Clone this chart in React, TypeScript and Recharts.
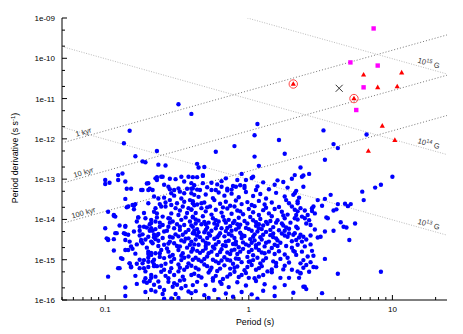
import { ScatterChart, Scatter, XAxis, YAxis } from "recharts"

// radio pulsars as [log10 P (s), log10 Pdot (s/s)]
const pulsars: [number, number][] = [
  [-0.49,-11.14],[-0.40,-11.38],[-0.83,-11.80],[-0.87,-12.11],[-0.64,-12.30],[-0.79,-12.43],[-0.74,-12.56],[-0.72,-12.58],
  [-0.63,-12.64],[-0.58,-12.66],[-0.23,-12.32],[-0.10,-12.18],[0.06,-11.63],[0.04,-11.91],[0.04,-12.44],[-0.36,-12.62],
  [-0.35,-12.71],[-0.31,-12.70],[-0.32,-12.90],[-0.39,-12.95],[-0.42,-12.94],[-0.51,-13.00],[-0.60,-12.94],[-0.64,-12.95],
  [-0.71,-13.11],[-0.64,-13.02],[-1.00,-13.02],[-1.00,-13.12],[-0.97,-13.09],[-0.91,-12.90],[-0.88,-12.86],[-0.91,-13.02],
  [-0.86,-13.06],[-0.85,-13.24],[-0.82,-13.24],[-0.74,-13.27],[-0.69,-13.24],[-0.67,-13.27],[-0.59,-13.14],[-0.49,-13.23],
  [-0.55,-13.25],[-0.43,-13.24],[-0.40,-13.24],[-0.36,-13.26],[-0.32,-13.10],[-0.26,-13.27],[-0.23,-13.27],[-0.19,-13.19],
  [-0.16,-12.98],[-0.15,-13.24],[-0.12,-13.26],[-0.09,-13.19],[-0.05,-12.87],[-0.02,-13.02],[-0.03,-13.17],[-0.06,-13.15],
  [0.03,-12.94],[0.07,-12.67],[0.05,-13.27],[0.21,-12.03],[0.52,-11.79],[0.59,-12.13],[0.62,-12.23],[0.82,-11.89],
  [0.25,-12.37],[0.53,-12.52],[0.36,-12.71],[0.38,-12.91],[0.42,-12.87],
  // short periods, lower left
  [-0.70,-13.10],[-0.65,-12.98],[-0.61,-12.94],[-0.55,-12.99],[-0.47,-12.94],[-0.45,-13.06],[-0.40,-13.10],[-0.39,-13.23],
  [-0.75,-13.27],[-0.70,-13.27],[-0.56,-13.19],[-0.52,-13.27],[-0.54,-13.35],[-0.48,-13.31],[-0.45,-13.35],[-0.38,-13.39],
  [-0.86,-13.49],[-0.66,-13.43],[-0.63,-13.48],[-0.59,-13.46],[-0.55,-13.52],[-0.52,-13.41],[-0.47,-13.48],[-0.45,-13.56],
  [-0.41,-13.52],[-0.39,-13.60],[-0.85,-13.70],[-0.81,-13.64],[-0.80,-13.75],[-0.65,-13.72],[-0.61,-13.68],[-0.58,-13.68],
  [-0.54,-13.64],[-0.51,-13.72],[-0.46,-13.68],[-0.42,-13.72],[-0.40,-13.76],[-0.54,-13.85],[-0.49,-13.89],[-0.94,-13.91],
  [-0.93,-13.93],[-0.77,-13.95],[-0.72,-13.97],[-0.68,-14.01],[-0.64,-13.95],[-0.60,-13.93],[-0.56,-13.97],[-0.53,-14.05],
  [-0.47,-14.01],[-0.44,-13.95],[-0.41,-14.05],[-0.39,-13.93],[-0.90,-14.15],[-0.86,-14.16],[-0.73,-14.18],[-0.68,-14.22],
  [-0.65,-14.24],[-0.60,-14.14],[-0.56,-14.18],[-0.52,-14.22],[-0.48,-14.26],[-0.45,-14.14],[-0.42,-14.26],[-0.39,-14.18],
  [-1.00,-14.22],[-0.93,-14.34],[-0.87,-14.34],[-0.84,-14.38],[-0.74,-14.37],[-0.70,-14.43],[-0.66,-14.38],[-0.59,-14.30],
  [-0.55,-14.43],[-0.51,-14.37],[-0.46,-14.38],[-0.42,-14.47],[-0.39,-14.34],[-0.99,-14.47],[-0.98,-14.51],[-0.83,-14.55],
  [-0.82,-14.67],[-0.81,-14.73],[-0.75,-14.51],[-0.74,-14.59],[-0.68,-14.55],[-0.63,-14.53],[-0.59,-14.63],[-0.55,-14.55],
  [-0.52,-14.59],[-0.48,-14.67],[-0.45,-14.55],[-0.41,-14.63],[-0.39,-14.72],[-0.89,-14.96],[-0.83,-15.09],[-0.70,-14.80],
  [-0.68,-14.88],[-0.65,-14.84],[-0.61,-14.76],[-0.56,-14.80],[-0.53,-14.88],[-0.49,-14.76],[-0.46,-14.84],[-0.42,-14.92],
  [-0.40,-14.80],[-0.73,-15.01],[-0.67,-15.05],[-0.59,-14.96],[-0.54,-15.05],[-0.47,-15.01],[-0.42,-15.09],[-0.91,-15.21],
  [-0.82,-15.17],[-0.72,-15.29],[-0.68,-15.38],[-0.65,-15.42],[-0.59,-15.25],[-0.54,-15.21],[-0.49,-15.29],[-0.45,-15.25],
  [-0.40,-15.38],[-0.98,-15.42],[-0.73,-15.54],[-0.69,-15.53],[-0.63,-15.54],[-0.56,-15.46],[-0.52,-15.58],[-0.45,-15.50],
  [-0.39,-15.63],[-0.86,-15.69],[-0.59,-15.75],[-0.53,-15.67],[-0.47,-15.71],[-0.42,-15.79],[-0.40,-15.83],[-0.59,-15.97],
  [-0.54,-15.96],
  [-0.98,-13.81],[-0.94,-13.89],[-0.98,-14.49],[-0.94,-14.49],[-0.94,-14.77],[-0.90,-15.21],[-0.88,-14.98],[-0.92,-14.34],
  [-0.86,-14.51],[-0.86,-14.76],[-0.84,-14.76],[-0.83,-15.09],[-0.82,-15.19],[-0.86,-15.90],[-0.86,-14.18],[-0.86,-14.36],
  [-0.84,-13.68],[-0.80,-13.66],[-0.79,-13.62],[-0.77,-13.95],[-0.76,-14.18],[-0.76,-14.28],[-0.75,-14.55],[-0.76,-15.00],
  [-0.74,-15.09],[-0.76,-15.21],[-0.73,-15.21],[-0.72,-15.46],[-0.71,-15.57],[-0.68,-15.75],[-0.65,-15.79],[-0.70,-14.86],
  [-0.68,-14.83],[-0.67,-14.59],[-0.65,-14.49],[-0.68,-14.09],[-0.65,-14.05],[-0.66,-13.81],[-0.67,-14.28],[-0.66,-14.44],
  [-0.64,-14.40],[-0.66,-15.00],[-0.66,-15.16],[-0.64,-15.16],[-0.69,-14.28],
  [-0.69,-14.12],[-0.62,-14.08],[-0.57,-14.28],[-0.50,-14.12],[-0.44,-14.32],[-0.60,-14.46],[-0.53,-14.45],[-0.47,-14.52],
  [-0.43,-14.70],[-0.63,-14.66],[-0.57,-14.72],[-0.50,-14.66],[-0.45,-14.95],[-0.52,-14.98],[-0.62,-14.93],[-0.71,-14.70],
  [-0.66,-15.12],[-0.58,-15.10],[-0.49,-15.12],[-0.43,-15.18],[-0.61,-15.30],[-0.52,-15.38],[-0.46,-15.42],[-0.70,-15.05],
  [-0.76,-14.40],[-0.78,-14.62],[-0.64,-13.85],[-0.55,-13.98],[-0.48,-13.78],[-0.43,-13.84],[-0.58,-13.58],[-0.50,-13.60],
  [-0.62,-13.62],[-0.70,-13.60],[-0.73,-13.84],[-0.56,-15.55],[-0.48,-15.52],[-0.62,-15.68],[-0.44,-15.65],[-0.51,-15.85],
  [-0.78,-14.05],[-0.71,-14.20],[-0.62,-14.18],[-0.55,-14.08],[-0.48,-14.18],[-0.80,-14.30],[-0.72,-14.50],[-0.63,-14.36],
  [-0.56,-14.60],[-0.49,-14.42],[-0.44,-14.48],[-0.79,-14.85],[-0.70,-14.95],[-0.62,-14.84],[-0.55,-14.92],[-0.47,-14.90],
  [-0.78,-15.10],[-0.70,-15.18],[-0.61,-15.15],[-0.55,-15.30],[-0.48,-15.20],[-0.79,-15.40],[-0.68,-15.45],[-0.58,-15.40],
  [-0.50,-15.62],[-0.66,-15.62],[-0.78,-15.60],[-0.72,-15.80],[-0.60,-15.85],[-0.49,-15.95],
  // the dense core around 1 s
  [-0.36,-12.95],[-0.32,-12.92],[-0.19,-13.05],[-0.08,-13.02],[0.02,-12.97],[0.10,-13.08],[0.20,-13.03],[0.24,-13.07],
  [0.30,-12.99],[-0.26,-13.09],
  [-0.38,-13.15],[-0.29,-13.20],[-0.22,-13.13],[-0.15,-13.28],[-0.11,-13.17],[-0.03,-13.22],[0.06,-13.18],[0.14,-13.25],
  [0.18,-13.14],[0.27,-13.21],[0.33,-13.29],[-0.34,-13.27],
  [-0.40,-13.35],[-0.35,-13.44],[-0.30,-13.38],[-0.25,-13.47],[-0.21,-13.33],[-0.17,-13.41],[-0.12,-13.36],[-0.07,-13.45],
  [-0.02,-13.32],[0.03,-13.42],[0.08,-13.37],[0.12,-13.48],[0.19,-13.34],[0.25,-13.43],[0.31,-13.39],[0.35,-13.46],
  [-0.39,-13.55],[-0.36,-13.63],[-0.31,-13.58],[-0.27,-13.68],[-0.24,-13.52],[-0.20,-13.61],[-0.16,-13.56],[-0.13,-13.66],
  [-0.09,-13.53],[-0.05,-13.62],[-0.01,-13.57],[0.04,-13.67],[0.07,-13.54],[0.11,-13.63],[0.16,-13.58],[0.21,-13.69],
  [0.28,-13.60],[0.34,-13.55],
  [-0.40,-13.75],[-0.37,-13.84],[-0.33,-13.72],[-0.30,-13.80],[-0.26,-13.88],[-0.23,-13.76],[-0.19,-13.83],[-0.15,-13.73],
  [-0.12,-13.86],[-0.08,-13.78],[-0.04,-13.87],[0.00,-13.74],[0.03,-13.82],[0.07,-13.89],[0.10,-13.77],[0.14,-13.85],
  [0.18,-13.74],[0.23,-13.81],[0.27,-13.88],[0.32,-13.76],
  [-0.39,-13.95],[-0.35,-14.03],[-0.32,-13.92],[-0.28,-14.08],[-0.25,-13.97],[-0.21,-14.05],[-0.18,-13.93],[-0.14,-14.01],
  [-0.11,-14.09],[-0.07,-13.96],[-0.03,-14.04],[0.01,-13.94],[0.05,-14.07],[0.08,-13.99],[0.12,-14.06],[0.16,-13.92],
  [0.20,-14.02],[0.25,-13.97],[0.29,-14.08],[0.34,-14.00],
  [-0.40,-14.15],[-0.36,-14.24],[-0.33,-14.12],[-0.29,-14.20],[-0.26,-14.28],[-0.22,-14.14],[-0.19,-14.22],[-0.16,-14.29],
  [-0.13,-14.17],[-0.09,-14.25],[-0.06,-14.13],[-0.02,-14.21],[0.02,-14.28],[0.05,-14.16],[0.09,-14.24],[0.13,-14.11],
  [0.17,-14.19],[0.21,-14.27],[0.24,-14.15],[0.28,-14.23],[0.33,-14.18],
  [-0.38,-14.35],[-0.34,-14.44],[-0.31,-14.32],[-0.27,-14.40],[-0.24,-14.48],[-0.20,-14.34],[-0.17,-14.42],[-0.14,-14.36],
  [-0.10,-14.46],[-0.06,-14.33],[-0.03,-14.41],[0.01,-14.49],[0.04,-14.37],[0.08,-14.44],[0.12,-14.31],[0.15,-14.39],
  [0.19,-14.47],[0.23,-14.35],[0.27,-14.43],[0.31,-14.38],[0.35,-14.45],
  [-0.40,-14.55],[-0.35,-14.63],[-0.32,-14.52],[-0.28,-14.60],[-0.25,-14.68],[-0.21,-14.56],[-0.18,-14.64],[-0.14,-14.53],
  [-0.11,-14.61],[-0.07,-14.69],[-0.04,-14.57],[0.00,-14.65],[0.04,-14.52],[0.07,-14.60],[0.11,-14.67],[0.14,-14.55],
  [0.18,-14.63],[0.22,-14.58],[0.26,-14.66],[0.30,-14.54],
  [-0.39,-14.75],[-0.34,-14.83],[-0.30,-14.72],[-0.26,-14.80],[-0.22,-14.88],[-0.19,-14.74],[-0.15,-14.82],[-0.12,-14.77],
  [-0.08,-14.86],[-0.04,-14.73],[0.00,-14.81],[0.03,-14.89],[0.07,-14.76],[0.11,-14.84],[0.16,-14.71],[0.21,-14.79],
  [0.25,-14.87],[0.31,-14.78],
  [-0.37,-14.95],[-0.33,-15.04],[-0.29,-14.92],[-0.25,-15.00],[-0.21,-15.08],[-0.17,-14.94],[-0.13,-15.02],[-0.09,-14.97],
  [-0.05,-15.06],[-0.01,-14.93],[0.03,-15.01],[0.08,-15.09],[0.12,-14.96],[0.17,-15.04],[0.22,-14.98],[0.28,-15.07],
  [-0.40,-15.15],[-0.35,-15.24],[-0.31,-15.12],[-0.26,-15.20],[-0.22,-15.28],[-0.17,-15.14],[-0.13,-15.22],[-0.08,-15.17],
  [-0.03,-15.26],[0.02,-15.13],[0.07,-15.21],[0.13,-15.29],[0.19,-15.16],[0.24,-15.24],
  [-0.38,-15.35],[-0.33,-15.44],[-0.28,-15.32],[-0.23,-15.40],[-0.18,-15.48],[-0.13,-15.36],[-0.07,-15.43],[-0.02,-15.33],
  [0.04,-15.46],[0.10,-15.38],[0.16,-15.31],[0.22,-15.45],
  [-0.36,-15.55],[-0.30,-15.63],[-0.25,-15.52],[-0.19,-15.60],[-0.14,-15.68],[-0.08,-15.56],[-0.02,-15.64],[0.05,-15.53],
  [0.11,-15.61],[0.18,-15.69],
  [-0.37,-15.78],[-0.31,-15.88],[-0.24,-15.75],[-0.16,-15.84],[-0.11,-15.92],[-0.05,-15.80],[0.02,-15.86],[0.10,-15.77],
  [0.18,-15.90],[-0.28,-15.95],[-0.21,-15.98],[0.06,-15.97],
  [-0.38,-13.65],[-0.33,-13.60],[-0.29,-13.70],[-0.18,-13.70],[-0.10,-13.68],[-0.06,-13.80],[0.02,-13.64],[0.12,-13.71],
  [-0.37,-14.00],[-0.30,-14.12],[-0.23,-14.02],[-0.16,-14.08],[-0.08,-14.12],[0.03,-14.02],[0.10,-14.15],[0.19,-14.08],
  [-0.35,-14.32],[-0.28,-14.35],[-0.21,-14.40],[-0.12,-14.28],[-0.05,-14.38],[0.06,-14.30],[0.17,-14.35],[0.25,-14.28],
  [-0.37,-14.50],[-0.30,-14.58],[-0.16,-14.55],[-0.09,-14.62],[0.02,-14.58],[0.09,-14.50],[0.20,-14.52],[-0.32,-14.78],
  [-0.24,-14.72],[-0.10,-14.75],[0.05,-14.70],[0.14,-14.80],[-0.35,-15.00],[-0.19,-15.02],[-0.11,-15.10],[0.00,-15.05],
  [0.06,-14.95],[-0.27,-15.26],[-0.10,-15.30],[0.05,-15.25],[-0.20,-15.55],[0.00,-15.45],
  [-0.37,-14.10],[-0.31,-14.06],[-0.24,-14.10],[-0.17,-14.02],[-0.10,-14.04],[-0.01,-14.10],[0.07,-14.12],[0.15,-14.04],
  [0.23,-14.10],[-0.38,-14.28],[-0.30,-14.26],[-0.23,-14.22],[-0.15,-14.21],[-0.07,-14.20],[0.00,-14.24],[0.07,-14.22],
  [0.15,-14.26],[0.26,-14.20],[-0.36,-14.40],[-0.29,-14.46],[-0.22,-14.44],[-0.12,-14.40],[-0.05,-14.46],[0.03,-14.43],
  [0.10,-14.38],[0.17,-14.44],[0.25,-14.40],[-0.38,-14.62],[-0.30,-14.66],[-0.23,-14.62],[-0.16,-14.66],[-0.09,-14.55],
  [-0.02,-14.62],[0.05,-14.64],[0.12,-14.58],[0.20,-14.66],[-0.36,-14.78],[-0.28,-14.84],[-0.20,-14.81],[-0.13,-14.86],
  [-0.06,-14.80],[0.02,-14.76],[0.09,-14.82],[0.18,-14.86],[-0.39,-15.00],[-0.31,-14.98],[-0.23,-15.04],[-0.15,-15.00],
  [-0.07,-14.98],[0.01,-15.04],[0.10,-15.02],[0.19,-15.08],[-0.37,-15.20],[-0.29,-15.16],[-0.20,-15.22],[-0.10,-15.20],
  [-0.01,-15.18],[0.09,-15.16],[0.16,-15.24],[-0.35,-15.40],[-0.25,-15.46],[-0.15,-15.42],[-0.05,-15.38],[0.07,-15.42],
  // longer periods, right tail
  [0.26,-13.52],[0.30,-13.68],[0.24,-13.90],[0.28,-14.35],[0.30,-14.70],[0.27,-14.95],[0.25,-15.15],[0.30,-15.25],
  [0.28,-15.45],
  [1.00,-12.94],[0.88,-13.21],[0.92,-13.14],[0.79,-13.31],[0.80,-13.52],[0.57,-13.39],[0.53,-13.49],[0.48,-13.52],
  [0.51,-13.66],[0.45,-13.68],[0.44,-13.72],[0.44,-13.79],[0.46,-13.85],[0.59,-13.78],[0.61,-13.75],[0.62,-13.62],
  [0.67,-13.61],[0.69,-13.67],[0.71,-13.62],[0.54,-13.95],[0.55,-13.97],[0.64,-14.07],[0.66,-14.18],[0.68,-14.20],
  [0.74,-14.10],[0.59,-14.28],[0.53,-14.30],[0.50,-14.43],[0.48,-14.45],[0.70,-14.51],[0.43,-14.62],[0.44,-14.78],
  [0.53,-14.98],[0.47,-15.19],[0.43,-15.06],[0.40,-15.13],[0.62,-15.35],[0.92,-15.30],[0.39,-15.67],[0.40,-15.73],
  [0.51,-15.83],
  [0.32,-12.90],[0.37,-12.94],[0.38,-13.19],[0.32,-13.35],[0.34,-13.60],[0.36,-13.72],[0.33,-13.89],[0.32,-13.97],
  [0.37,-13.93],[0.39,-13.97],[0.41,-13.89],[0.40,-14.10],[0.43,-14.14],[0.34,-14.22],[0.32,-14.34],[0.36,-14.38],
  [0.38,-14.43],[0.33,-14.51],[0.37,-14.55],[0.34,-14.63],[0.32,-14.80],[0.39,-14.67],[0.37,-14.80],[0.38,-15.01],
  [0.33,-14.88],[0.36,-15.09],[0.34,-15.29],[0.36,-15.34],[0.41,-14.92],
  [0.34,-13.80],[0.39,-13.78],[0.42,-14.02],[0.46,-14.25],[0.43,-14.40],[0.40,-14.50],[0.45,-14.90],[0.38,-15.20],
  [0.35,-15.45],[0.42,-15.30],[0.25,-15.63],[0.31,-15.82],[0.38,-15.67],[0.36,-15.33],[0.45,-15.18],
]

// SGRs (magenta squares)
const sgrP = [7.4, 5.1, 7.9, 6.3, 5.6]
const sgrPdot = [5.5e-10, 7.9e-11, 6.6e-11, 1.9e-11, 5.2e-12]
// AXPs (red triangles)
const axpP = [6.3, 11.6, 7.9, 10.8, 8.5, 10.4, 6.8, 2.04, 5.4]
const axpPdot = [3.9e-11, 4.4e-11, 1.9e-11, 2.0e-11, 2.1e-12, 9.3e-13, 5.0e-13, 2.3e-11, 1.0e-11]
// radio-loud magnetars (ringed)
const ringP = [2.04, 5.4]
const ringPdot = [2.3e-11, 1.0e-11]
const crossP = [4.26]
const crossPdot = [1.8e-11]

const ageKyr = [1, 10, 100]
const fieldExp = [13, 14, 15]
const pRange = [0.05, 24]
const SEC_YR = 3.156e7

const font = "'Liberation Sans', Arial, Helvetica, sans-serif"

const pulsarData = pulsars.map(([lp, lpd]) => ({ p: 10 ** lp, pd: 10 ** lpd }))
const sgrData = sgrP.map((p, i) => ({ p, pd: sgrPdot[i] }))
const axpData = axpP.map((p, i) => ({ p, pd: axpPdot[i] }))
const ringData = ringP.map((p, i) => ({ p, pd: ringPdot[i] }))
const crossData = crossP.map((p, i) => ({ p, pd: crossPdot[i] }))

const agePdot = (p: number, kyr: number) => p / (2 * kyr * 1e3 * SEC_YR)
const fieldPdot = (p: number, e: number) => (10 ** e / 3.2e19) ** 2 / p
const ageLines = ageKyr.map(k => pRange.map(p => ({ p, pd: agePdot(p, k) })))
const fieldLines = fieldExp.map(e => pRange.map(p => ({ p, pd: fieldPdot(p, e) })))
const ageLabels = ageKyr.map(k => ({ p: 0.072, pd: agePdot(0.072, k), k }))
const fieldLabels = fieldExp.map(e => ({ p: 14.7, pd: fieldPdot(14.7, e), e }))

const xTicks: number[] = []
for (let e = -2; e <= 1; e++) for (let m = 1; m <= 9; m++) {
  const v = m * 10 ** e
  if (v >= 0.05 && v <= 24) xTicks.push(v)
}
const yTicks: number[] = []
for (let e = -16; e <= -10; e++) for (const m of [1, 2, 5]) yTicks.push(m * 10 ** e)
yTicks.push(1e-9)

const isMajor = (v: number) => Math.abs(Math.log10(v) - Math.round(Math.log10(v))) < 1e-6
const tickLen = (v: number) => (isMajor(v) ? 5 : 3)

const BottomTick = ({ x, y, payload }: any) => (
  <g>
    <line x1={x} x2={x} y1={y} y2={y - tickLen(payload.value)} stroke="#000" />
    {isMajor(payload.value) && (
      <text x={x} y={y + 12} textAnchor="middle" fontSize={8} fontFamily={font} fill="#000">
        {String(payload.value)}
      </text>
    )}
  </g>
)
const TopTick = ({ x, y, payload }: any) => (
  <line x1={x} x2={x} y1={y} y2={y + tickLen(payload.value)} stroke="#000" />
)
const LeftTick = ({ x, y, payload }: any) => {
  const v = payload.value
  const e = Math.round(Math.log10(v))
  return (
    <g>
      <line x1={x} x2={x + tickLen(v)} y1={y} y2={y} stroke="#000" />
      {isMajor(v) && (
        <text x={x - 7} y={y + 3} textAnchor="end" fontSize={8} fontFamily={font} fill="#000">
          {`1e-${String(-e).padStart(2, "0")}`}
        </text>
      )}
    </g>
  )
}
const RightTick = ({ x, y, payload }: any) => (
  <line x1={x} x2={x - tickLen(payload.value)} y1={y} y2={y} stroke="#000" />
)

const noShape = () => <g />

export default function App() {
  return (
    <div style={{ position: "absolute", left: 0, top: 0, width: 463, height: 334, background: "#fff" }}>
      <ScatterChart width={463} height={334} margin={{ top: 18, right: 16, bottom: 0, left: 0 }}>
        <XAxis xAxisId="b" type="number" dataKey="p" scale="log" domain={[0.05, 24]} allowDataOverflow
          ticks={xTicks} interval={0} tickSize={0} tickMargin={0} tick={<BottomTick />} height={34}
          axisLine={{ stroke: "#000" }} />
        <XAxis xAxisId="t" orientation="top" type="number" dataKey="p" scale="log" domain={[0.05, 24]} allowDataOverflow
          ticks={xTicks} interval={0} tickSize={0} tickMargin={0} tick={<TopTick />} height={0}
          axisLine={{ stroke: "#000" }} />
        <YAxis yAxisId="l" type="number" dataKey="pd" scale="log" domain={[1e-16, 1e-9]} allowDataOverflow
          ticks={yTicks} interval={0} tickSize={0} tickMargin={0} tick={<LeftTick />} width={62}
          axisLine={{ stroke: "#000" }} />
        <YAxis yAxisId="r" orientation="right" type="number" dataKey="pd" scale="log" domain={[1e-16, 1e-9]} allowDataOverflow
          ticks={yTicks} interval={0} tickSize={0} tickMargin={0} tick={<RightTick />} width={0}
          axisLine={{ stroke: "#000" }} />

        {ageLines.map((d, i) => (
          <Scatter key={`a${i}`} xAxisId="b" yAxisId="l" data={d} shape={noShape} lineType="joint"
            line={{ stroke: "#777", strokeWidth: 1, strokeDasharray: "1 2" }} isAnimationActive={false} />
        ))}
        {fieldLines.map((d, i) => (
          <Scatter key={`f${i}`} xAxisId="b" yAxisId="l" data={d} shape={noShape} lineType="joint"
            line={{ stroke: "#bbb", strokeWidth: 1, strokeDasharray: "1 1.5" }} isAnimationActive={false} />
        ))}
        <Scatter xAxisId="b" yAxisId="l" data={ageLabels} isAnimationActive={false}
          shape={(s: any) => (
            <text x={s.cx} y={s.cy - 2} textAnchor="middle" fontSize={7.5} fontFamily={font} fill="#333"
              transform={`rotate(-15.7 ${s.cx} ${s.cy})`}>
              {`${s.payload.k} kyr`}
            </text>
          )} />
        <Scatter xAxisId="b" yAxisId="l" data={fieldLabels} isAnimationActive={false}
          shape={(s: any) => (
            <text x={s.cx} y={s.cy - 3} textAnchor="start" fontSize={7.5} fontFamily={font} fill="#333"
              transform={`rotate(15.7 ${s.cx} ${s.cy})`}>
              10<tspan dy={-3} fontSize={5.5}>{s.payload.e}</tspan><tspan dy={3}> G</tspan>
            </text>
          )} />

        <Scatter xAxisId="b" yAxisId="l" data={pulsarData} isAnimationActive={false}
          shape={(s: any) => <circle cx={s.cx} cy={s.cy} r={2.2} fill="#0000ff" />} />
        <Scatter xAxisId="b" yAxisId="l" data={sgrData} isAnimationActive={false}
          shape={(s: any) => <rect x={s.cx - 2.2} y={s.cy - 2.2} width={4.4} height={4.4} fill="#ff00ff" />} />
        <Scatter xAxisId="b" yAxisId="l" data={ringData} isAnimationActive={false}
          shape={(s: any) => <circle cx={s.cx} cy={s.cy} r={4.2} fill="none" stroke="#f44" strokeWidth={1} />} />
        <Scatter xAxisId="b" yAxisId="l" data={axpData} isAnimationActive={false}
          shape={(s: any) => (
            <path d={`M${s.cx},${s.cy - 2.8} L${s.cx + 2.6},${s.cy + 1.8} L${s.cx - 2.6},${s.cy + 1.8} Z`} fill="#ff0000" />
          )} />
        <Scatter xAxisId="b" yAxisId="l" data={crossData} isAnimationActive={false}
          shape={(s: any) => (
            <path d={`M${s.cx - 3.5},${s.cy - 3.5} L${s.cx + 3.5},${s.cy + 3.5} M${s.cx - 3.5},${s.cy + 3.5} L${s.cx + 3.5},${s.cy - 3.5}`}
              stroke="#333" strokeWidth={1} />
          )} />
      </ScatterChart>

      <div style={{
        position: "absolute", left: 15, top: 158, transform: "translate(-50%, -50%) rotate(-90deg)",
        whiteSpace: "nowrap", fontFamily: font, fontSize: 8.8, color: "#000",
      }}>
        Period derivative (s s<sup style={{ fontSize: 6 }}>-1</sup>)
      </div>
      <div style={{
        position: "absolute", left: 255, top: 317, transform: "translateX(-50%)",
        whiteSpace: "nowrap", fontFamily: font, fontSize: 8.8, color: "#000",
      }}>
        Period (s)
      </div>
    </div>
  )
}
